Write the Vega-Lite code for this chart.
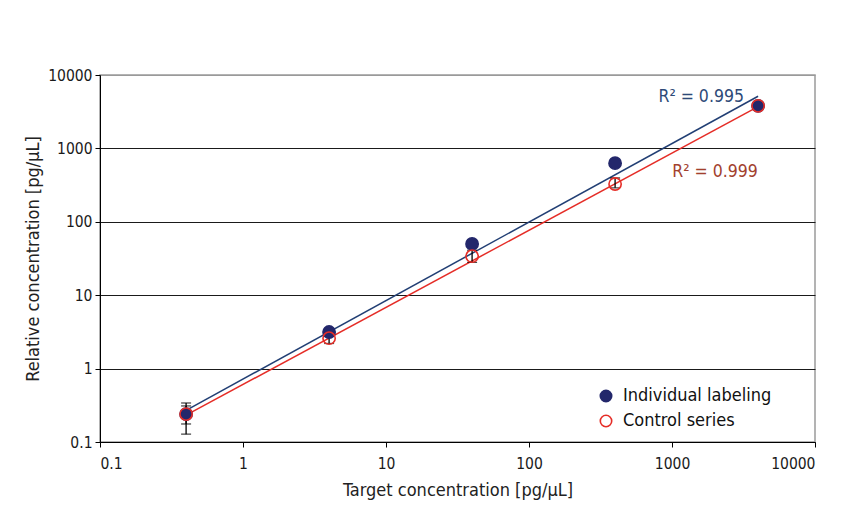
{
  "$schema": "https://vega.github.io/schema/vega-lite/v6.json",
  "width": 715,
  "height": 367,
  "autosize": "none",
  "padding": {"left": 100, "top": 75, "right": 30, "bottom": 87},
  "background": "white",
  "config": {
    "font": "DejaVu Sans Condensed",
    "view": {"stroke": "#9a9a9a", "strokeWidth": 1.5},
    "axis": {
      "labelFont": "DejaVu Sans Condensed",
      "labelFontSize": 15.5,
      "labelColor": "#1a1a1a",
      "titleFont": "DejaVu Sans Condensed",
      "titleFontSize": 18,
      "titleFontWeight": "normal",
      "titleColor": "#222222",
      "domainColor": "#000000",
      "domainWidth": 1,
      "tickColor": "#000000",
      "tickSize": 5
    },
    "legend": {
      "labelFont": "DejaVu Sans Condensed",
      "labelFontSize": 18,
      "labelColor": "#111111",
      "symbolSize": 130,
      "symbolStrokeWidth": 1.6,
      "rowPadding": 7,
      "labelOffset": 8
    }
  },
  "datasets": {
    "points": [
      {"series": "Individual labeling", "conc": 0.4, "val": 0.24},
      {"series": "Individual labeling", "conc": 4, "val": 3.15},
      {"series": "Individual labeling", "conc": 40, "val": 50},
      {"series": "Individual labeling", "conc": 400, "val": 630},
      {"series": "Individual labeling", "conc": 4000, "val": 3800},
      {"series": "Control series", "conc": 0.4, "val": 0.24},
      {"series": "Control series", "conc": 4, "val": 2.6},
      {"series": "Control series", "conc": 40, "val": 34},
      {"series": "Control series", "conc": 400, "val": 327},
      {"series": "Control series", "conc": 4000, "val": 3800}
    ],
    "errors": [
      {"series": "Individual labeling", "conc": 0.4, "lo": 0.176, "hi": 0.34},
      {"series": "Individual labeling", "conc": 4, "lo": 2.9, "hi": 3.4},
      {"series": "Individual labeling", "conc": 40, "lo": 46, "hi": 54},
      {"series": "Individual labeling", "conc": 400, "lo": 590, "hi": 680},
      {"series": "Individual labeling", "conc": 4000, "lo": 3600, "hi": 4000},
      {"series": "Control series", "conc": 0.4, "lo": 0.128, "hi": 0.31},
      {"series": "Control series", "conc": 4, "lo": 2.2, "hi": 3.0},
      {"series": "Control series", "conc": 40, "lo": 28, "hi": 41},
      {"series": "Control series", "conc": 400, "lo": 290, "hi": 395},
      {"series": "Control series", "conc": 4000, "lo": 3500, "hi": 4100}
    ],
    "fits": [
      {"series": "Individual labeling", "conc": 0.4, "val": 0.27},
      {"series": "Individual labeling", "conc": 4000, "val": 5130},
      {"series": "Control series", "conc": 0.4, "val": 0.232},
      {"series": "Control series", "conc": 4000, "val": 3700}
    ],
    "labels": [
      {"series": "Individual labeling", "label": "R² = 0.995", "conc": 1600, "val": 5000},
      {"series": "Control series", "label": "R² = 0.999", "conc": 2000, "val": 480}
    ]
  },
  "layer": [
    {
      "data": {"name": "fits"},
      "transform": [{"filter": "datum.series == 'Individual labeling'"}],
      "mark": {"type": "line", "color": "#223F74", "strokeWidth": 1.5},
      "encoding": {
        "x": {
          "field": "conc", "type": "quantitative",
          "title": "Target concentration [pg/µL]",
          "scale": {"type": "log", "domain": [0.1, 10000], "nice": false},
          "axis": {
            "values": [0.1, 1, 10, 100, 1000, 10000],
            "format": "~g",
            "title": "Target concentration [pg/µL]",
            "grid": false,
            "labelPadding": 9,
            "titlePadding": 10
          }
        },
        "y": {
          "field": "val", "type": "quantitative",
          "title": "Relative concentration [pg/µL]",
          "scale": {"type": "log", "domain": [0.1, 10000], "nice": false},
          "axis": {
            "values": [0.1, 1, 10, 100, 1000, 10000],
            "format": "~g",
            "title": "Relative concentration [pg/µL]",
            "grid": true,
            "gridColor": {"condition": {"test": "datum.value >= 10000", "value": "#9a9a9a"}, "value": "#1a1a1a"},
            "gridWidth": 1,
            "labelPadding": 3,
            "titlePadding": 5
          }
        }
      }
    },
    {
      "data": {"name": "fits"},
      "transform": [{"filter": "datum.series == 'Control series'"}],
      "mark": {"type": "line", "color": "#E52D27", "strokeWidth": 1.5},
      "encoding": {
        "x": {"field": "conc", "type": "quantitative", "title": "Target concentration [pg/µL]", "scale": {"type": "log", "domain": [0.1, 10000], "nice": false}},
        "y": {"field": "val", "type": "quantitative", "title": "Relative concentration [pg/µL]", "scale": {"type": "log", "domain": [0.1, 10000], "nice": false}}
      }
    },
    {
      "data": {"name": "errors"},
      "mark": {"type": "errorbar", "ticks": true, "size": 10, "thickness": 1.3, "color": "#000000"},
      "encoding": {
        "x": {"field": "conc", "type": "quantitative", "title": "Target concentration [pg/µL]", "scale": {"type": "log", "domain": [0.1, 10000], "nice": false}},
        "y": {"field": "lo", "type": "quantitative", "title": "Relative concentration [pg/µL]", "scale": {"type": "log", "domain": [0.1, 10000], "nice": false}},
        "y2": {"field": "hi"}
      }
    },
    {
      "data": {"name": "points"},
      "mark": {"type": "point", "shape": "circle", "size": 150, "strokeWidth": 1.6, "opacity": 1},
      "encoding": {
        "x": {"field": "conc", "type": "quantitative", "title": "Target concentration [pg/µL]", "scale": {"type": "log", "domain": [0.1, 10000], "nice": false}},
        "y": {"field": "val", "type": "quantitative", "title": "Relative concentration [pg/µL]", "scale": {"type": "log", "domain": [0.1, 10000], "nice": false}},
        "fill": {
          "field": "series", "type": "nominal",
          "scale": {"domain": ["Individual labeling", "Control series"], "range": ["#23276B", "transparent"]},
          "legend": {"title": null, "orient": "none", "legendX": 497, "legendY": 312}
        },
        "stroke": {
          "field": "series", "type": "nominal",
          "scale": {"domain": ["Individual labeling", "Control series"], "range": ["#23276B", "#E52D27"]},
          "legend": {"title": null, "orient": "none", "legendX": 497, "legendY": 312}
        }
      }
    },
    {
      "data": {"name": "labels"},
      "mark": {"type": "text", "fontSize": 17.5, "align": "center", "baseline": "middle", "font": "DejaVu Sans Condensed"},
      "encoding": {
        "x": {"field": "conc", "type": "quantitative", "title": "Target concentration [pg/µL]", "scale": {"type": "log", "domain": [0.1, 10000], "nice": false}},
        "y": {"field": "val", "type": "quantitative", "title": "Relative concentration [pg/µL]", "scale": {"type": "log", "domain": [0.1, 10000], "nice": false}},
        "text": {"field": "label"},
        "color": {
          "field": "series", "type": "nominal",
          "scale": {"domain": ["Individual labeling", "Control series"], "range": ["#2E4A78", "#A2412E"]},
          "legend": null
        }
      }
    }
  ]
}
